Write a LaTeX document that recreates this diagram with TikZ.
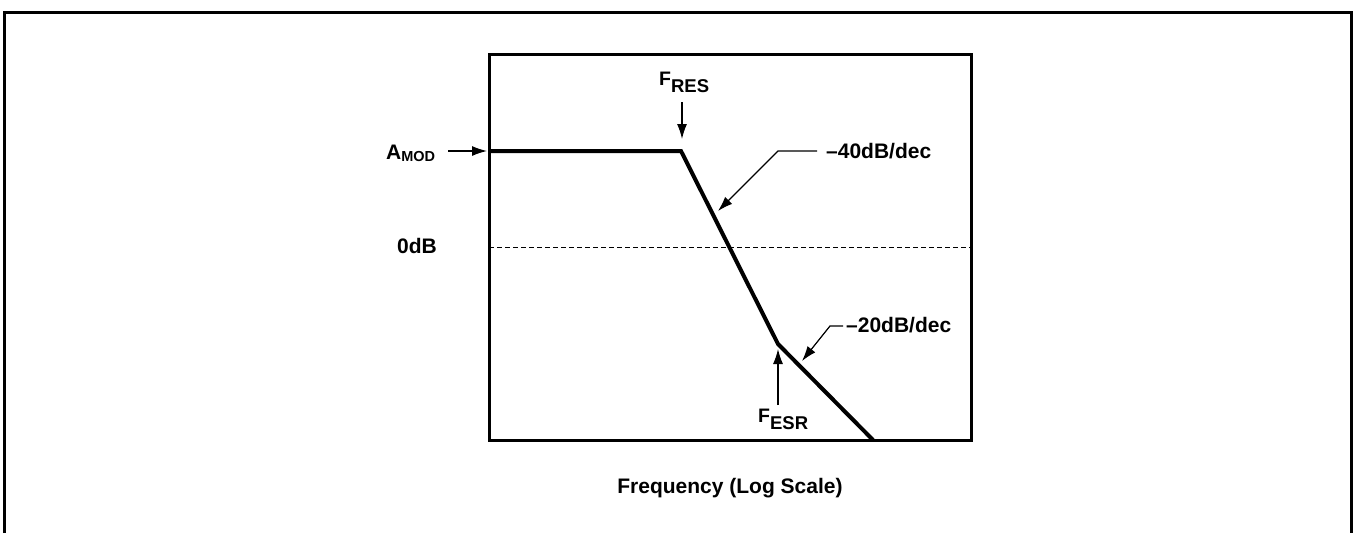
\documentclass[tikz,border=0pt]{standalone}
\usepackage{fontspec}
\setmainfont{Liberation Sans}
\usetikzlibrary{arrows.meta}
% letter with a lowered index: #2 index, #3 drop, #4 index size
\newcommand{\lbl}[4]{#1\raisebox{-#3}{\fontsize{#4}{#4}\selectfont #2}}
\begin{document}
\begin{tikzpicture}[x=1pt,y=-1pt,
  lab/.style={inner sep=0pt,anchor=base west,font=\fontsize{21}{25}\selectfont\bfseries},
  flab/.style={lab,font=\fontsize{19.5}{24}\selectfont\bfseries},
  frame/.style={line width=3pt},
  resp/.style={line width=4pt,line join=miter},
  pointer/.style={line width=1.2pt,-{Latex[length=15pt,width=10pt]}},
  grid0/.style={line width=1pt,dash pattern=on 5pt off 3pt}]
\useasboundingbox (0,0) rectangle (1359,533);
% outer frame, open at the bottom
\draw[frame] (4,533) -- (4,12) -- (1351,12) -- (1351,533);
% plot area
\coordinate (tl) at (489,54);
\coordinate (br) at (971,440);
\draw[frame] (tl) rectangle (br);
% 0 dB reference
\coordinate (z0) at (489,247);
\coordinate (z1) at (971,247);
\draw[grid0] (z0) -- (z1);
% gain response
\coordinate (p0) at (489,151);
\coordinate (pres) at (681,151);
\coordinate (pesr) at (778,344);
\coordinate (pend) at (873,440);
\draw[resp] (p0) -- (pres) -- (pesr) -- (pend);
% labels
\node[lab] (amod) at (386,159) {\lbl{A}{MOD}{2pt}{14.5}};
\node[lab] (zdb) at (397,253) {0dB};
\node[flab] (fres) at (659,85) {\lbl{F}{RES}{7.5pt}{18.5}};
\node[lab] (s40) at (826,158) {–40dB/dec};
\node[lab] (s20) at (846,332) {–20dB/dec};
\node[flab] (fesr) at (758,422) {\lbl{F}{ESR}{7.5pt}{18.5}};
\node[lab,anchor=base] (xlab) at (730,493) {Frequency (Log Scale)};
% pointers
\coordinate (a0) at (448,151);
\coordinate (a1) at (487,151);
\draw[pointer] (a0) -- (a1);
\coordinate (r0) at (682,102);
\coordinate (r1) at (682,139);
\draw[pointer] (r0) -- (r1);
\coordinate (m0) at (817,151);
\coordinate (m1) at (778,151);
\coordinate (m2) at (718,211);
\draw[pointer] (m0) -- (m1) -- (m2);
\coordinate (n0) at (843,326);
\coordinate (n1) at (830,326);
\coordinate (n2) at (802,361);
\draw[pointer] (n0) -- (n1) -- (n2);
\coordinate (e0) at (778,405);
\coordinate (e1) at (778,349);
\draw[pointer] (e0) -- (e1);
\end{tikzpicture}
\end{document}
